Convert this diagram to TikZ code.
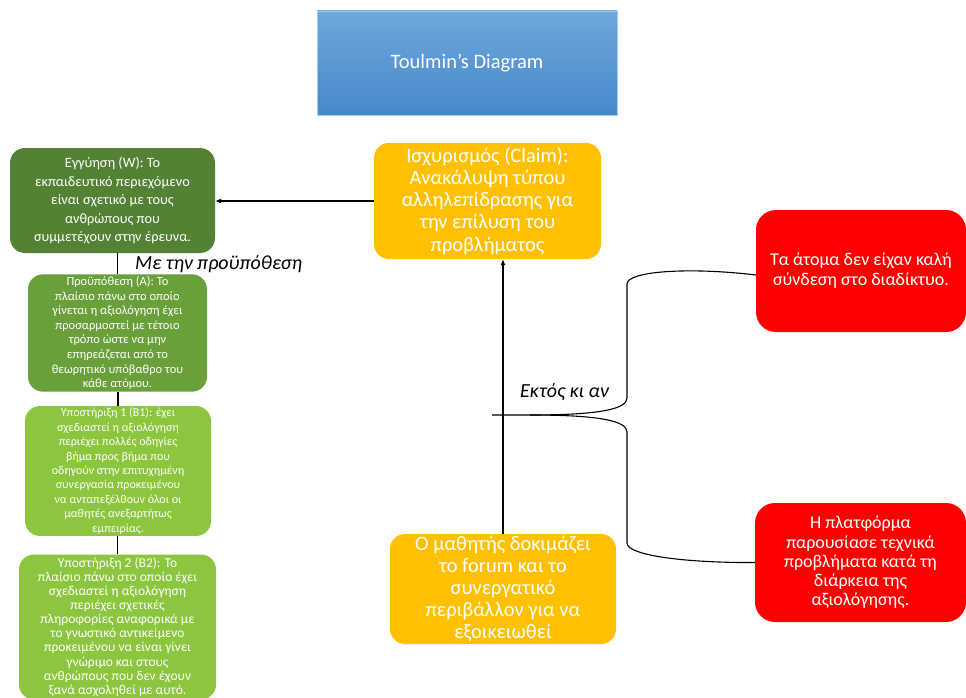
\documentclass[tikz,border=0pt]{standalone}
\usepackage{fontspec}
\setmainfont{Carlito}
\usetikzlibrary{arrows.meta}
\definecolor{wgreen}{RGB}{84,130,53}
\definecolor{agreen}{RGB}{106,160,58}
\definecolor{bgreen}{RGB}{140,198,63}
\definecolor{cyellow}{RGB}{255,192,0}
\definecolor{rred}{RGB}{255,0,0}
\definecolor{ttop}{RGB}{112,167,221}
\definecolor{tbot}{RGB}{70,137,202}
\begin{document}
\begin{tikzpicture}[x=1pt,y=-1pt,
  boxnode/.style={rounded corners=15pt,text=white,align=center,inner sep=2pt,anchor=center},
  conn/.style={line width=1.1pt,draw=black},
  arr/.style={conn,-{Latex[length=6pt,width=5pt]}},
  lbl/.style={font=\itshape,text=black,anchor=west,inner sep=0pt}]
\useasboundingbox (0,0) rectangle (966,698);
% title
\node[top color=ttop,bottom color=tbot,draw=ttop!60!white,line width=0.6pt,text=white,
  minimum width=300,minimum height=104,font=\fontsize{20.5}{24}\selectfont] (title) at (467,63) {Toulmin’s Diagram};
% left column
\node[boxnode,fill=wgreen,minimum width=205,minimum height=105,font=\fontsize{14.3}{18.5}\selectfont] (W) at (112.5,200.5)
  {Εγγύηση (W): Το\\εκπαιδευτικό περιεχόμενο\\είναι σχετικό με τους\\ανθρώπους που\\συμμετέχουν στην έρευνα.};
\node[boxnode,fill=agreen,minimum width=179,minimum height=114,font=\fontsize{12.5}{14.6}\selectfont] (A) at (117.5,333)
  {Προϋπόθεση (A): Το\\πλαίσιο πάνω στο οποίο\\γίνεται η αξιολόγηση έχει\\προσαρμοστεί με τέτοιο\\τρόπο ώστε να μην\\επηρεάζεται από το\\θεωρητικό υπόβαθρο του\\κάθε ατόμου.};
\node[boxnode,fill=bgreen,minimum width=186,minimum height=128,font=\fontsize{12}{14.4}\selectfont] (B1) at (118,471)
  {Υποστήριξη 1 (B1): έχει\\σχεδιαστεί η αξιολόγηση\\περιέχει πολλές οδηγίες\\βήμα προς βήμα που\\οδηγούν στην επιτυχημένη\\συνεργασία προκειμένου\\να ανταπεξέλθουν όλοι οι\\μαθητές ανεξαρτήτως\\εμπειρίας.};
\node[boxnode,fill=bgreen,minimum width=197,minimum height=145,font=\fontsize{13.5}{14.1}\selectfont] (B2) at (117.5,627)
  {Υποστήριξη 2 (B2): Το\\πλαίσιο πάνω στο οποίο έχει\\σχεδιαστεί η αξιολόγηση\\περιέχει σχετικές\\πληροφορίες αναφορικά με\\το γνωστικό αντικείμενο\\προκειμένου να είναι γίνει\\γνώριμο και στους\\ανθρώπους που δεν έχουν\\ξανά ασχοληθεί με αυτό.};
% centre
\node[boxnode,fill=cyellow,minimum width=227,minimum height=116,font=\fontsize{20.5}{22.2}\selectfont] (C) at (487.5,201)
  {Ισχυρισμός (Claim):\\Ανακάλυψη τύπου\\αλληλεπίδρασης για\\την επίλυση του\\προβλήματος};
\node[boxnode,fill=cyellow,minimum width=226,minimum height=110,font=\fontsize{20.5}{22}\selectfont] (D) at (503,589)
  {Ο μαθητής δοκιμάζει\\το forum και το\\συνεργατικό\\περιβάλλον για να\\εξοικειωθεί};
% right
\node[boxnode,rounded corners=20pt,fill=rred,minimum width=210,minimum height=122,font=\fontsize{18}{20}\selectfont] (R1) at (861,271)
  {Τα άτομα δεν είχαν καλή\\σύνδεση στο διαδίκτυο.};
\node[boxnode,rounded corners=20pt,fill=rred,minimum width=211,minimum height=119,font=\fontsize{18}{19.3}\selectfont] (R2) at (860.5,562.5)
  {Η πλατφόρμα\\παρουσίασε τεχνικά\\προβλήματα κατά τη\\διάρκεια της\\αξιολόγησης.};
% connectors
\draw[arr] (C.west) -- (C.west -| W.east);
\draw[conn] (A.north) -- (A.north |- W.south);
\draw[conn] (B1.north) -- (B1.north |- A.south);
\draw[conn] (B2.north) -- (B2.north |- B1.south);
\draw[arr] (D.north) -- (D.north |- C.south);
% bracket
\coordinate (q) at (492,415);
\coordinate (qm) at (530,415);
\draw[conn] (q) -- (qm) .. controls (600,415) and (627,409) .. (627,398) -- (627,284)
  .. controls (627,271) and (690,267) .. ([yshift=-4pt]R1.west);
\draw[conn] (qm) .. controls (600,415) and (627,421) .. (627,432) -- (627,543)
  .. controls (627,556) and (690,563) .. (R2.west);
% labels
\node[lbl,font=\itshape\fontsize{20}{22}\selectfont] (l1) at (135,264) {Με την προϋπόθεση};
\node[lbl,font=\itshape\fontsize{20}{22}\selectfont] (l2) at (520,392) {Εκτός κι αν};
\end{tikzpicture}
\end{document}
